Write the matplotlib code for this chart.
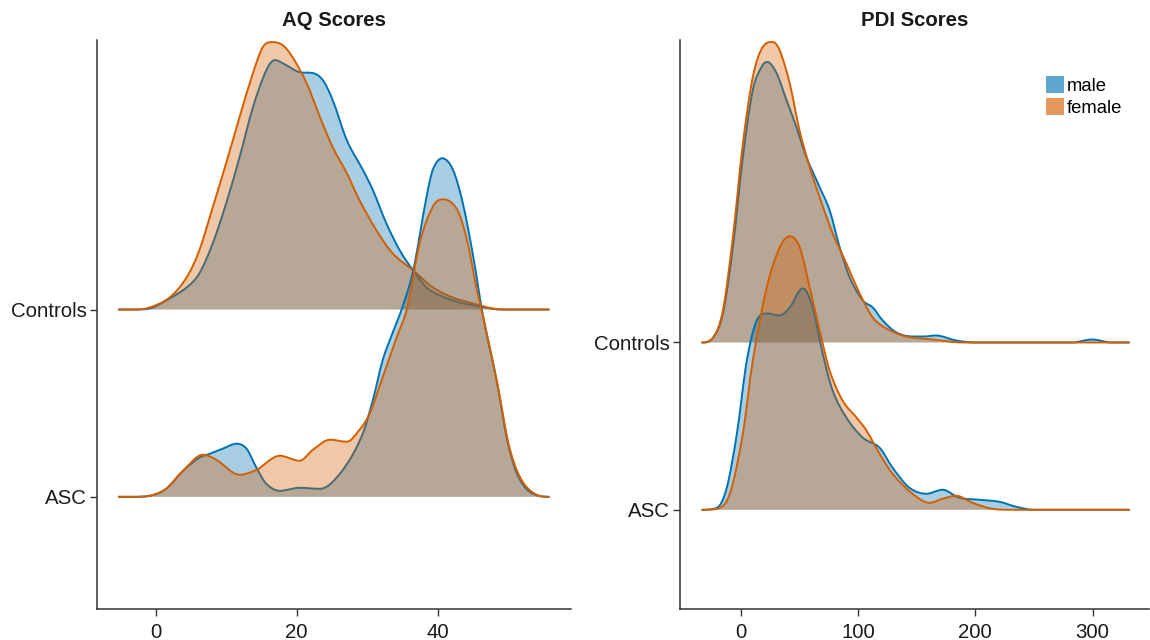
import numpy as np
import matplotlib
matplotlib.use("Agg")
import matplotlib.pyplot as plt
from matplotlib.path import Path
from matplotlib.patches import PathPatch, Patch

plt.rcParams["font.family"] = ["Liberation Sans", "DejaVu Sans"]

# ---------------- data ----------------
categories = ["ASC", "Controls"]
groups = ["male", "female"]
titles = ["AQ Scores", "PDI Scores"]
aq_ticks = [0, 20, 40]
pdi_ticks = [0, 100, 200, 300]

# AQ -- heights in ridge units (row spacing = 187)
aq_ctrl_male_x = [-5.2, -3, -0.85, 1.5, 4.4, 6.2, 8.1, 10, 11.9, 13.8, 15.7, 16.9, 18.5, 20.4, 22.3, 23.7,
                  25.1, 27.1, 29.4, 30.8, 32.7, 34.6, 36.5, 38.4, 40.3, 43.1, 46, 48.8, 55.7]
aq_ctrl_male_h = [0, 0, 1, 9, 22, 36, 66, 106, 152, 202, 239, 249, 244, 237, 236, 229,
                  209, 169, 139, 119, 86, 59, 39, 22, 14, 7, 3, 0, 0]
aq_ctrl_female_x = [-5.2, -3, -0.85, 2, 4.4, 6.2, 8.1, 10, 11.9, 13.8, 15.2, 16.5, 18, 19.4, 21.4, 23.3,
                    25.1, 27.1, 28.9, 31.3, 33.6, 36.5, 39.3, 42.1, 45, 47.8, 50, 55.7]
aq_ctrl_female_h = [0, 0, 2, 12, 32, 59, 102, 146, 192, 236, 262, 267, 264, 252, 226, 192,
                    162, 136, 109, 79, 56, 39, 22, 12, 6, 1, 0, 0]
aq_asc_male_x = [-5.2, -3, -0.85, 1.5, 3.9, 6.2, 7.7, 9.5, 11.5, 12.9, 14.3, 15.7, 17.6, 20.4, 23.3, 25.1,
                 27.5, 29.4, 30.8, 32.2, 33.6, 35, 36.5, 38.4, 39.3, 40.6, 42.1, 43.5, 45, 46.4, 48.4,
                 49.8, 51.2, 53, 55.7]
aq_asc_male_h = [0, 0, 1, 8, 26, 39, 43, 48, 53, 48, 29, 13, 6, 9, 8, 15,
                 37, 64, 97, 137, 164, 190, 226, 300, 327, 338, 327, 294, 240, 180, 113,
                 57, 23, 5, 0]
aq_asc_female_x = [-5.2, -3, -0.85, 1.5, 3.9, 6.7, 8.6, 11.9, 14.3, 17.6, 20.4, 22.3, 24.7, 27.1, 28.9,
                   30.4, 32.2, 34.2, 35.7, 37.4, 39.3, 40.7, 42.7, 44.1, 45.5, 46.4, 48.5, 50, 51.6,
                   53.5, 55.7]
aq_asc_female_h = [0, 0, 1, 8, 26, 42, 37, 22, 27, 41, 36, 47, 57, 55, 67,
                   84, 120, 160, 190, 253, 290, 297, 287, 257, 207, 180, 110, 53, 20,
                   4, 0]

# PDI -- heights in ridge units (row spacing = 167)
pdi_ctrl_male_x = [-33, -23.6, -15.3, -6.8, 1.7, 10.2, 17.6, 22.5, 30.4, 38.9, 47.4, 55.9, 67.2, 75.7,
                   84.3, 92.8, 104, 112.5, 121, 132.6, 146.8, 156, 166.4, 183.5, 200, 282.6, 299.6,
                   316, 331]
pdi_ctrl_male_h = [0, 5, 29, 95, 185, 252, 275, 280, 269, 242, 215, 185, 155, 132,
                   95, 65, 42, 35, 22, 10, 6, 6, 7, 2, 0, 0, 3,
                   0, 0]
pdi_ctrl_female_x = [-33, -23.6, -15.3, -6.8, 1.7, 10.2, 18.7, 27, 33, 41.6, 50, 58.7, 67.2, 78.3, 90,
                     101.3, 112.5, 124, 141, 163.4, 190, 331]
pdi_ctrl_female_h = [0, 5, 32, 105, 198, 265, 295, 300, 292, 259, 212, 175, 145, 109, 79,
                     49, 25, 14, 6, 3, 0, 0]
pdi_asc_male_x = [-33, -20.4, -12, -3.4, 5.1, 13.6, 22.1, 33.2, 41.7, 52.8, 61.3, 69.8, 78.3, 90, 104,
                  118.3, 129.4, 143.8, 158.3, 172, 186.4, 203.4, 220.4, 234.9, 250, 331]
pdi_asc_male_h = [0, 2, 22, 76, 149, 189, 196, 194, 202, 221, 202, 156, 119, 92, 72,
                  62, 42, 22, 16, 20, 12, 10, 8, 3, 0, 0]
pdi_asc_female_x = [-33, -20.4, -9.4, 1.7, 10.2, 22.1, 33.2, 41.7, 50.2, 58.7, 67.2, 75.7, 86.8, 98.7,
                    107.2, 118.3, 129.4, 146.4, 160.9, 172, 183.8, 197.4, 214.5, 230, 331]
pdi_asc_female_h = [0, 1, 16, 76, 149, 222, 262, 273, 262, 222, 179, 139, 109, 92,
                    79, 56, 36, 16, 7, 11, 14, 7, 1, 0, 0]

# ---------------- style ----------------
line_colors = {"male": "#0072B2", "female": "#D55E00"}
FILL_ALPHA = 0.34
LEGEND_ALPHA = 0.63
AQ_ROW = 187.0
PDI_ROW = 167.0


def smooth_slopes(x, y):
    """Centred-difference tangents with an overshoot limiter (for drawing smooth Bezier curves)."""
    x = np.asarray(x, float)
    y = np.asarray(y, float)
    d = np.diff(y) / np.diff(x)
    n = len(x)
    m = np.zeros(n)
    for k in range(1, n - 1):
        if d[k - 1] * d[k] <= 0:
            m[k] = 0.0
        else:
            c = (y[k + 1] - y[k - 1]) / (x[k + 1] - x[k - 1])
            lim = 3.0 * min(abs(d[k - 1]), abs(d[k]))
            m[k] = np.sign(c) * min(abs(c), lim)
    return m


def ridge_paths(x, hts, base, row):
    x = np.asarray(x, float)
    y = base + np.asarray(hts, float) / row
    m = smooth_slopes(x, y)
    verts = [(x[0], y[0])]
    codes = [Path.MOVETO]
    for k in range(len(x) - 1):
        dx = x[k + 1] - x[k]
        verts += [(x[k] + dx / 3, y[k] + m[k] * dx / 3),
                  (x[k + 1] - dx / 3, y[k + 1] - m[k + 1] * dx / 3),
                  (x[k + 1], y[k + 1])]
        codes += [Path.CURVE4] * 3
    line = Path(verts, codes)
    fverts = [(x[0], base)] + verts + [(x[-1], base), (x[0], base)]
    fcodes = [Path.MOVETO, Path.LINETO] + codes[1:] + [Path.LINETO, Path.CLOSEPOLY]
    fill = Path(fverts, fcodes)
    return fill, line


def draw_ridge(ax, x, hts, base, row, group, z):
    fill, line = ridge_paths(x, hts, base, row)
    ax.add_patch(PathPatch(fill, facecolor=line_colors[group], alpha=FILL_ALPHA,
                           edgecolor="none", zorder=z))
    ax.add_patch(PathPatch(line, facecolor="none", edgecolor=line_colors[group],
                           lw=1.4, zorder=z + 0.5, capstyle="round", joinstyle="round"))


fig = plt.figure(figsize=(11.5, 6.4), dpi=100)
W, H = 1150.0, 640.0
bottom_px, top_px = 609.0, 40.0
axL = fig.add_axes([97 / W, 1 - bottom_px / H, (571 - 97) / W, (bottom_px - top_px) / H])
axR = fig.add_axes([680 / W, 1 - bottom_px / H, (1149 - 680) / W, (bottom_px - top_px) / H])

panels = [
    (axL, AQ_ROW, {"Controls": {"male": (aq_ctrl_male_x, aq_ctrl_male_h),
                                "female": (aq_ctrl_female_x, aq_ctrl_female_h)},
                   "ASC": {"male": (aq_asc_male_x, aq_asc_male_h),
                           "female": (aq_asc_female_x, aq_asc_female_h)}},
     (-8.29, 58.85), (0.401, 3.439), aq_ticks, titles[0]),
    (axR, PDI_ROW, {"Controls": {"male": (pdi_ctrl_male_x, pdi_ctrl_male_h),
                                 "female": (pdi_ctrl_female_x, pdi_ctrl_female_h)},
                    "ASC": {"male": (pdi_asc_male_x, pdi_asc_male_h),
                            "female": (pdi_asc_female_x, pdi_asc_female_h)}},
     (-51.9, 348.1), (0.407, 3.808), pdi_ticks, titles[1]),
]

for ax, row, data, xl, yl, xt, title in panels:
    z = 2
    for cat in ["Controls", "ASC"]:
        base = categories.index(cat) + 1
        for g in groups:
            xs, hs = data[cat][g]
            draw_ridge(ax, xs, hs, base, row, g, z)
            z += 1
    ax.set_xlim(*xl)
    ax.set_ylim(*yl)
    ax.set_xticks(xt)
    ax.set_xticklabels([str(t) for t in xt])
    ax.set_yticks([1, 2])
    ax.set_yticklabels(categories)
    for s in ["top", "right"]:
        ax.spines[s].set_visible(False)
    for s in ["left", "bottom"]:
        ax.spines[s].set_color("#333333")
        ax.spines[s].set_linewidth(1.1)
    ax.tick_params(length=5, width=1, color="#333333", pad=2.5,
                   labelsize=14.7, labelcolor="#1a1a1a")
    ax.tick_params(axis="x", pad=5)
    ax.set_title(title, fontsize=14.7, fontweight="bold", pad=10, color="#1a1a1a")

handles = [Patch(facecolor=line_colors[g], alpha=LEGEND_ALPHA, edgecolor="none") for g in groups]
fig.legend(handles, groups, loc="upper left", bbox_to_anchor=(1046 / W, 1 - 76 / H),
           bbox_transform=fig.transFigure, frameon=False, fontsize=13.3,
           handlelength=1.0, handleheight=1.05, handletextpad=0.1, labelspacing=0.15,
           borderpad=0, borderaxespad=0)

fig.savefig("out.png", dpi=100)
